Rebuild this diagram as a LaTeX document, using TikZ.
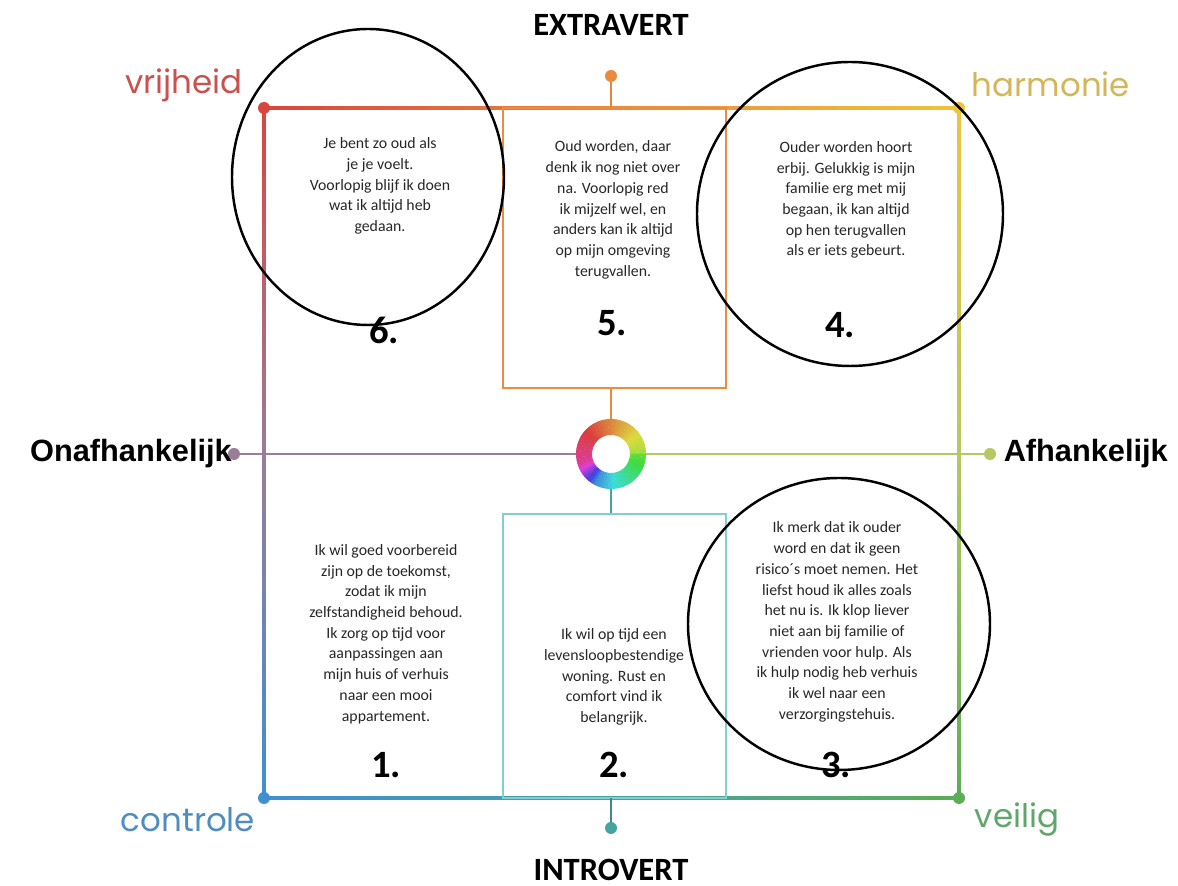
\documentclass[tikz,border=0pt]{standalone}
\usepackage{fontspec}
\setmainfont{Carlito}
\newfontfamily\poppins{Poppins}
\newfontfamily\arialb{Liberation Sans}

\definecolor{cred}{HTML}{D9463D}
\definecolor{corange}{HTML}{E98A3C}
\definecolor{cyellow}{HTML}{EEC43C}
\definecolor{cpurple}{HTML}{9A7D98}
\definecolor{cblue}{HTML}{3F8FD2}
\definecolor{cteal}{HTML}{45A3A2}
\definecolor{cgreen}{HTML}{5CAD55}
\definecolor{clime}{HTML}{B7C862}
\definecolor{cboxup}{HTML}{EE8B3E}
\definecolor{cboxdown}{HTML}{80D0D0}
\definecolor{lvrij}{HTML}{C9524F}
\definecolor{lharm}{HTML}{D3B65A}
\definecolor{lcontr}{HTML}{4F8DBF}
\definecolor{lveil}{HTML}{5FA66A}

\tikzset{
  knob/.style={circle, fill=#1, inner sep=0pt, minimum size=0.24cm},
  frameline/.style={line width=1.6pt},
  quote/.style={align=center, text=black!85, font=\fontsize{9}{11.8}\selectfont},
  num/.style={font=\bfseries\fontsize{22}{22}\selectfont},
  corner/.style={text=#1, font=\poppins\fontsize{18.5}{18.5}\selectfont},
  pole/.style={font=\bfseries\fontsize{18.5}{18.5}\selectfont},
  side/.style={font=\arialb\bfseries\fontsize{17.5}{17.5}\selectfont},
  hand/.style={line width=1.4pt, black},
}

\begin{document}
\begin{tikzpicture}[x=0.02cm, y=0.02cm]
\useasboundingbox (0,0) rectangle (1178,886);

%% kader met kleurverloop
\shade [left color=cred, right color=corange] (264,776.5) rectangle (611,779.5);
\shade [left color=corange, right color=cyellow] (611,776.5) rectangle (959,779.5);
\shade [left color=cblue, right color=cteal] (264,86.5) rectangle (611,89.5);
\shade [left color=cteal, right color=cgreen] (611,86.5) rectangle (959,89.5);
\shade [top color=cred, bottom color=cpurple] (262.5,778) rectangle (265.5,432);
\shade [top color=cpurple, bottom color=cblue] (262.5,432) rectangle (265.5,88);
\shade [top color=cyellow, bottom color=clime] (957.5,778) rectangle (960.5,432);
\shade [top color=clime, bottom color=cgreen] (957.5,432) rectangle (960.5,88);

%% hoekpunten
\node [knob=cred] (vdot) at (264,778) {};
\node [knob=cyellow] (hdot) at (959,778) {};
\node [knob=cblue] (cdot) at (264,88) {};
\node [knob=cgreen] (wdot) at (959,88) {};

%% middenvlakken
\node [draw=cboxup, line width=1.3pt, minimum width=4.46cm, minimum height=5.6cm, inner sep=0pt] (boxup) at (614.5,638) {};
\node [draw=cboxdown, line width=1.3pt, minimum width=4.46cm, minimum height=5.68cm, inner sep=0pt] (boxdown) at (614.5,230) {};

%% assen
\node [circle, minimum size=1.4cm, inner sep=0pt] (ring) at (611,432) {};
\node [knob=corange] (topdot) at (611,810) {};
\node [knob=cteal] (botdot) at (611,58) {};
\node [knob=cpurple] (ldot) at (234,432) {};
\node [knob=clime] (rdot) at (990,432) {};
\coordinate (topmid) at (611,778);
\coordinate (botmid) at (611,88);
\draw [frameline, color=corange!80!brown] (topdot) -- (topmid);
\draw [frameline, color=cteal!85!black] (botdot) -- (botmid);
\draw [frameline, color=cpurple] (ldot) -- (ring.west);
\draw [frameline, color=clime] (ring.east) -- (rdot);
\draw [frameline, color=corange] (ring.north) -- (ring.north |- boxup.south);
\draw [frameline, color=cteal] (ring.south) -- (ring.south |- boxdown.north);

%% kleurenring
\foreach \a in {0,5,...,355}{
  \pgfmathsetmacro\hue{\a<=135 ? 0.22-\a*0.22/135 : (\a<=195 ? 1-(\a-135)*0.1/60 : (\a<=240 ? 0.9-(\a-195)*0.32/45 : 0.58-(\a-240)*0.3/120))}
  \definecolor{ringcol}{hsb}{\hue,0.72,0.86}
  \fill [ringcol, shift={(ring)}] (\a:19) -- (\a:35) arc [start angle=\a, end angle=\a+5.6, radius=35] -- (\a+5.6:19) arc [start angle=\a+5.6, end angle=\a, radius=19] -- cycle;
}

%% labels
\node [pole] (extra) at (611,861) {EXTRAVERT};
\node [pole] (intro) at (611,16) {INTROVERT};
\node [side, anchor=east] (onaf) at (238,432) {Onafhankelijk};
\node [side, anchor=east] (afh) at (1174,432) {Afhankelijk};
\node [corner=lvrij] (vrij) at (184,801) {vrijheid};
\node [corner=lharm] (harm) at (1051,802) {harmonie};
\node [corner=lcontr] (contr) at (188,66) {controle};
\node [corner=lveil] (veil) at (1017,66) {veilig};

%% teksten
\node [quote] (t6) at (380,700) {Je bent zo oud als\\je je voelt.\\Voorlopig blijf ik doen\\wat ik altijd heb\\gedaan.};
\node [quote] (t5) at (613,676) {Oud worden, daar\\denk ik nog niet over\\na. Voorlopig red\\ik mijzelf wel, en\\anders kan ik altijd\\op mijn omgeving\\terugvallen.};
\node [quote] (t4) at (846,686) {Ouder worden hoort\\erbij. Gelukkig is mijn\\familie erg met mij\\begaan, ik kan altijd\\op hen terugvallen\\als er iets gebeurt.};
\node [quote] (t1) at (386,252) {Ik wil goed voorbereid\\zijn op de toekomst,\\zodat ik mijn\\zelfstandigheid behoud.\\Ik zorg op tijd voor\\aanpassingen aan\\mijn huis of verhuis\\naar een mooi\\appartement.};
\node [quote] (t2) at (614,209) {Ik wil op tijd een\\levensloopbestendige\\woning. Rust en\\comfort vind ik\\belangrijk.};
\node [quote] (t3) at (837,264) {Ik merk dat ik ouder\\word en dat ik geen\\risico´s moet nemen. Het\\liefst houd ik alles zoals\\het nu is. Ik klop liever\\niet aan bij familie of\\vrienden voor hulp. Als\\ik hulp nodig heb verhuis\\ik wel naar een\\verzorgingstehuis.};

\node [num] (n6) at (384,556) {6.};
\node [num] (n5) at (612,563) {5.};
\node [num] (n4) at (840,561) {4.};
\node [num] (n1) at (386,121) {1.};
\node [num] (n2) at (614,121) {2.};
\node [num] (n3) at (836,121) {3.};

%% omcirkelde vakken
\draw [hand] (368,709) ellipse [x radius=136, y radius=148];
\draw [hand] (850,672) ellipse [x radius=153, y radius=152];
\draw [hand] (839,262) ellipse [x radius=151, y radius=146];

\end{tikzpicture}
\end{document}
